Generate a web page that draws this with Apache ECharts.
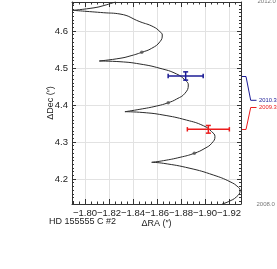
<!DOCTYPE html>
<html><head><meta charset="utf-8">
<script src="https://cdn.jsdelivr.net/npm/echarts@6/dist/echarts.min.js"></script>
<style>html,body{margin:0;padding:0;background:#fff}#c{width:277px;height:269px}</style>
</head><body><div id="c"></div>
<script>
// Apparent path of the companion (ΔRA, ΔDec in arcsec), from 2008.0 (bottom) to 2012.0 (top)
const pathRA = [
  -1.9142,-1.9194,-1.9264,-1.9292,-1.9278,-1.9208,-1.9069,-1.8875,-1.8653,-1.8556,
  -1.8653,-1.8792,-1.8911,-1.9000,-1.9056,-1.9083,-1.9054,-1.8988,-1.8846,-1.8650,-1.8483,-1.8333,
  -1.8458,-1.8598,-1.8694,-1.8764,-1.8833,-1.8861,-1.8833,-1.8764,-1.8625,-1.8458,-1.8292,-1.8119,
  -1.8292,-1.8375,-1.8473,-1.8556,-1.8625,-1.8644,-1.8625,-1.8569,-1.8458,-1.8292,-1.8153,-1.7900,
  -1.8075,-1.8158,-1.8258
];
const pathDec = [
  4.1324,4.1386,4.1522,4.1684,4.1776,4.1927,4.2108,4.2289,4.2424,4.2451,
  4.2495,4.2586,4.2695,4.2830,4.2965,4.3143,4.3284,4.3438,4.3592,4.3730,4.3797,4.3819,
  4.3884,4.3973,4.4062,4.4162,4.4316,4.4541,4.4676,4.4838,4.4992,4.5108,4.5170,4.5189,
  4.5262,4.5324,4.5424,4.5532,4.5711,4.5892,4.5981,4.6116,4.6251,4.6459,4.6495,4.6559,
  4.6627,4.6689,4.6789
];
// indices of the cusps where the path turns sharply
const cuspIndex = [9, 21, 33, 45];
// yearly epoch markers on the path
const epochRA  = [-1.8911, -1.8694, -1.8473];
const epochDec = [4.2695, 4.4062, 4.5424];
// measured positions
const obsEpoch = ['2010.3', '2009.3'];
const obsRA    = [-1.8839, -1.9028];
const obsDec   = [4.4784, 4.3343];
const obsRAerr = [0.0146, 0.0175];
const obsDecErr= [0.0112, 0.0104];
const pathStart = '2008.0', pathEnd = '2012.0';

const obsColors = ['#1c1c96', '#ec1c1c'];
const FONT = 'Liberation Sans, Arial, sans-serif';
const xMin = -1.93, xMax = -1.7892, yMin = 4.1324, yMax = 4.6784;

const chart = echarts.init(document.getElementById('c'), null, {renderer:'canvas'});

const bounds = [0].concat(cuspIndex, [pathRA.length - 1]);
const segSeries = [];
for (let s = 0; s < bounds.length - 1; s++) {
  const d = [];
  for (let i = bounds[s]; i <= bounds[s+1]; i++) d.push([pathRA[i], pathDec[i]]);
  segSeries.push({
    type:'line', data:d, showSymbol:false, smooth:0.5,
    lineStyle:{color:'#2a2a2a', width:1}, silent:true, clip:true, z:3
  });
}

const fmtX = v => (v < 0 ? '\u2212' : '') + Math.abs(v).toFixed(2);
const commonX = {
  type:'value', min:xMin, max:xMax, inverse:true, splitNumber:7,
  axisLine:{show:true, onZero:false, lineStyle:{color:'#333', width:1}},
  axisTick:{show:true, inside:true, length:5, lineStyle:{color:'#333'}},
  minorTick:{show:true, splitNumber:4, length:2.5, lineStyle:{color:'#333'}},
};
const commonY = {
  type:'value', min:yMin, max:yMax, splitNumber:5,
  axisLine:{show:true, onZero:false, lineStyle:{color:'#333', width:1}},
  axisTick:{show:true, inside:true, length:4, lineStyle:{color:'#333'}},
  minorTick:{show:true, splitNumber:10, length:2, lineStyle:{color:'#333'}},
};

chart.setOption({
  animation:false,
  grid:{left:72, top:2, right:36, bottom:65, containLabel:false},
  xAxis:[
    Object.assign({}, commonX, {
      position:'bottom',
      splitLine:{show:true, lineStyle:{color:'#e2e2e2', width:1}},
      axisLabel:{show:true, formatter:fmtX, fontSize:9.5, color:'#222', fontFamily:FONT, margin:4,
                 showMinLabel:false, showMaxLabel:false, hideOverlap:false},
      name:'\u0394RA (\u2033)', nameLocation:'middle', nameGap:15, nameMoveOverlap:false,
      nameTextStyle:{fontSize:9, color:'#222', fontFamily:FONT}
    }),
    Object.assign({}, commonX, {
      position:'top', splitLine:{show:false}, axisLabel:{show:false}
    })
  ],
  yAxis:[
    Object.assign({}, commonY, {
      position:'left',
      splitLine:{show:true, lineStyle:{color:'#e2e2e2', width:1}},
      axisLabel:{show:true, formatter:v => v.toFixed(1), fontSize:9.5, color:'#222', fontFamily:FONT, margin:4,
                 showMinLabel:false, showMaxLabel:false},
      name:'\u0394Dec (\u2033)', nameLocation:'middle', nameGap:17, nameRotate:90, nameMoveOverlap:false,
      nameTextStyle:{fontSize:9, color:'#222', fontFamily:FONT}
    }),
    Object.assign({}, commonY, {
      position:'right', splitLine:{show:false}, axisLabel:{show:false}
    })
  ],
  series: segSeries.concat([
    {
      type:'scatter', data: epochRA.map((x,i)=>[x, epochDec[i]]),
      symbol:'circle', symbolSize:3.5, itemStyle:{color:'#555'}, silent:true, z:4
    },
    {
      type:'custom', z:5, silent:true,
      data: obsRA.map((x,i)=>[x, obsDec[i], obsRAerr[i], obsDecErr[i]]),
      renderItem:function(params, api){
        const x = api.value(0), y = api.value(1), ex = api.value(2), ey = api.value(3);
        const l = api.coord([x-ex, y]), r = api.coord([x+ex, y]);
        const t = api.coord([x, y+ey]), b = api.coord([x, y-ey]);
        const col = obsColors[params.dataIndex];
        const st = {stroke:col, lineWidth:1.5, fill:null};
        const capV = 2.2, capH = 2.5;
        const seg = (x1,y1,x2,y2) => ({type:'line', shape:{x1,y1,x2,y2}, style:st});
        return {type:'group', children:[
          seg(l[0], l[1], r[0], r[1]),
          seg(t[0], t[1], b[0], b[1]),
          seg(l[0], l[1]-capV, l[0], l[1]+capV),
          seg(r[0], r[1]-capV, r[0], r[1]+capV),
          seg(t[0]-capH, t[1], t[0]+capH, t[1]),
          seg(b[0]-capH, b[1], b[0]+capH, b[1])
        ]};
      }
    }
  ])
});

// annotations to the right of the frame
const gx = chart.convertToPixel({gridIndex:0}, [xMin, yMin]);
const rightX = gx[0];
const labelY = [100.3, 107.5];
const graphics = [
  {type:'text', left:49, top:217, style:{text:'HD 155555 C #2', font:'9px ' + FONT, fill:'#222'}},
  {type:'text', x:257.5, y:1.6, style:{text:pathEnd, font:'6px ' + FONT, fill:'#777', verticalAlign:'middle'}},
  {type:'text', x:256.5, y:204, style:{text:pathStart, font:'6px ' + FONT, fill:'#777', verticalAlign:'middle'}}
];
obsRA.forEach((x,i)=>{
  const p = chart.convertToPixel({gridIndex:0}, [x, obsDec[i]]);
  const y0 = Math.round(p[1]) + 0.5;
  graphics.push({type:'polyline', silent:true, shape:{points:[[rightX, y0],[rightX+5, y0],[rightX+9.7, labelY[i]],[rightX+15.5, labelY[i]]]},
    style:{stroke:obsColors[i], lineWidth:1, fill:null}});
  graphics.push({type:'text', x:rightX+18, y:labelY[i], style:{text:obsEpoch[i], font:'5.8px ' + FONT, fill:obsColors[i], verticalAlign:'middle'}});
});
chart.setOption({graphic:graphics});
</script>
</body></html>
